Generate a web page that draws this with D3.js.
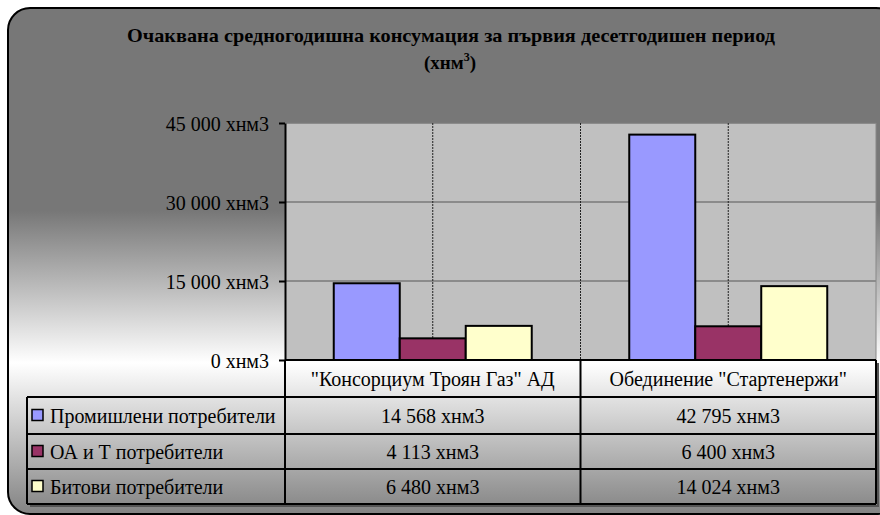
<!DOCTYPE html>
<html><head><meta charset="utf-8">
<script src="https://cdn.jsdelivr.net/npm/d3@7"></script>
<style>
html,body{margin:0;padding:0;background:#fff;}
svg text{font-family:"Liberation Serif","Times New Roman","DejaVu Serif",serif !important;}
</style></head>
<body><svg id="c" width="880" height="515" style="display:block"></svg>
<script>
const categories = ['"Консорциум Троян Газ" АД', 'Обединение "Стартенержи"'];
const seriesNames = ["Промишлени потребители", "ОА и Т потребители", "Битови потребители"];
const seriesColors = ["#9999FF", "#993366", "#FFFFCC"];
const industrial = [14568, 42795];
const publicTrade = [4113, 6400];
const household = [6480, 14024];
const yTicks = [0, 15000, 30000, 45000];
const unit = "хнм3";
const titleLine1 = "Очаквана средногодишна консумация за първия десетгодишен период";

const seriesValues = [industrial, publicTrade, household];
const FF = "Liberation Serif, Times New Roman, serif";

const svg = d3.select("#c");
const defs = svg.append("defs");
const grad = defs.append("linearGradient").attr("id","bg")
  .attr("gradientUnits","userSpaceOnUse").attr("x1",0).attr("y1",8).attr("x2",0).attr("y2",515);
[[0,"#777777"],[0.4,"#777777"],[0.70,"#ffffff"],[1,"#828282"]].forEach(s=>
  grad.append("stop").attr("offset",s[0]).attr("stop-color",s[1]));

svg.append("rect").attr("x",8).attr("y",8).attr("width",890).attr("height",506)
  .attr("rx",22).attr("ry",22).attr("fill","url(#bg)").attr("stroke","#000").attr("stroke-width",2);

const title = svg.append("text").attr("text-anchor","middle").attr("font-weight","bold").attr("font-size",19).attr("font-family",FF);
title.append("tspan").attr("x",451).attr("y",42).attr("textLength",648).attr("lengthAdjust","spacingAndGlyphs").text(titleLine1);
const t2 = svg.append("text").attr("x",450).attr("y",69).attr("text-anchor","middle").attr("font-weight","bold").attr("font-size",19).attr("font-family",FF);
t2.append("tspan").text("(хнм");
t2.append("tspan").attr("font-size",12).attr("dy",-8).text("3");
t2.append("tspan").attr("dy",8).text(")");

const pLeft = 285, pRight = 876, pTop = 123, pBottom = 360;
const fmt = d3.formatLocale({thousands:" ", grouping:[3], decimal:","}).format(",");

const x = d3.scaleBand().domain(categories).range([pLeft,pRight]).paddingInner(0.33).paddingOuter(0.165);
const xs = d3.scaleBand().domain(seriesNames).range([0,x.bandwidth()]);
const y = d3.scaleLinear().domain([0,45000]).range([pBottom,pTop]);
const step = x.step();

svg.append("rect").attr("x",pLeft).attr("y",pTop).attr("width",pRight-pLeft).attr("height",pBottom-pTop).attr("fill","#C0C0C0");
svg.append("g").selectAll("line").data(yTicks.filter(d=>d>0)).join("line")
  .attr("x1",pLeft).attr("x2",pRight).attr("y1",d=>y(d)).attr("y2",d=>y(d))
  .attr("stroke","#7a7a7a").attr("stroke-width",1.5);
const vx = [];
categories.forEach((c,i)=>{ vx.push(x(c)+x.bandwidth()/2); if(i<categories.length-1) vx.push(pLeft+step*(i+1)); });
svg.append("g").selectAll("line").data(vx).join("line")
  .attr("x1",d=>d).attr("x2",d=>d).attr("y1",pTop).attr("y2",pBottom)
  .attr("stroke","#222").attr("stroke-width",1).attr("stroke-dasharray","2,1");
svg.append("line").attr("x1",pRight).attr("x2",pRight).attr("y1",pTop).attr("y2",pBottom).attr("stroke","#888").attr("stroke-width",1);

seriesNames.forEach((s,si)=>{
  svg.append("g").selectAll("rect").data(categories).join("rect")
    .attr("x",c=>x(c)+xs(s)).attr("width",xs.bandwidth())
    .attr("y",(c,ci)=>y(seriesValues[si][ci])).attr("height",(c,ci)=>pBottom-y(seriesValues[si][ci]))
    .attr("fill",seriesColors[si]).attr("stroke","#000").attr("stroke-width",2);
});

const yAxis = svg.append("g").attr("transform",`translate(${pLeft},0)`)
  .call(d3.axisLeft(y).tickValues(yTicks).tickSize(6).tickSizeOuter(0).tickPadding(10).tickFormat(d=>fmt(d)+" "+unit));
yAxis.attr("font-family",FF).attr("font-size",20);
yAxis.select(".domain").attr("stroke","#000").attr("stroke-width",2);
yAxis.selectAll(".tick line").attr("stroke","#000").attr("stroke-width",2);
yAxis.selectAll(".tick text").attr("fill","#000").attr("dy","0.35em");

const rowY = [360, 397, 434, 469, 504];
const tLeft = 27;
const colX = [tLeft, pLeft, pLeft+step, pRight];
const tbl = svg.append("g").attr("font-family",FF).attr("font-size",20);
tbl.append("path").attr("d",`M${pRight+2},${rowY[0]+3}V${rowY[4]+2}H${tLeft+3}`).attr("fill","none").attr("stroke","#555").attr("stroke-width",2);
rowY.forEach((ry,i)=>{
  tbl.append("line").attr("x1",i===0?pLeft:tLeft).attr("x2",pRight).attr("y1",ry).attr("y2",ry).attr("stroke","#000").attr("stroke-width",2);
});
colX.forEach((cx,i)=>{
  tbl.append("line").attr("x1",cx).attr("x2",cx).attr("y1",i===0?rowY[1]:rowY[0]).attr("y2",rowY[4]).attr("stroke","#000").attr("stroke-width",2);
});
tbl.selectAll("text.cat").data(categories).join("text").attr("class","cat")
  .attr("x",c=>x(c)+x.bandwidth()/2).attr("y",(rowY[0]+rowY[1])/2).attr("dy","0.35em")
  .attr("text-anchor","middle").text(c=>c);
seriesNames.forEach((s,si)=>{
  const cy = (rowY[si+1]+rowY[si+2])/2;
  tbl.append("rect").attr("x",32).attr("y",cy-6).attr("width",11).attr("height",11)
    .attr("fill",seriesColors[si]).attr("stroke","#000").attr("stroke-width",1.5);
  tbl.append("text").attr("x",50).attr("y",cy).attr("dy","0.35em").text(s);
  tbl.selectAll(null).data(categories).join("text")
    .attr("x",c=>x(c)+x.bandwidth()/2).attr("y",cy).attr("dy","0.35em")
    .attr("text-anchor","middle")
    .text((c,ci)=>fmt(seriesValues[si][ci])+" "+unit);
});
</script></body></html>
